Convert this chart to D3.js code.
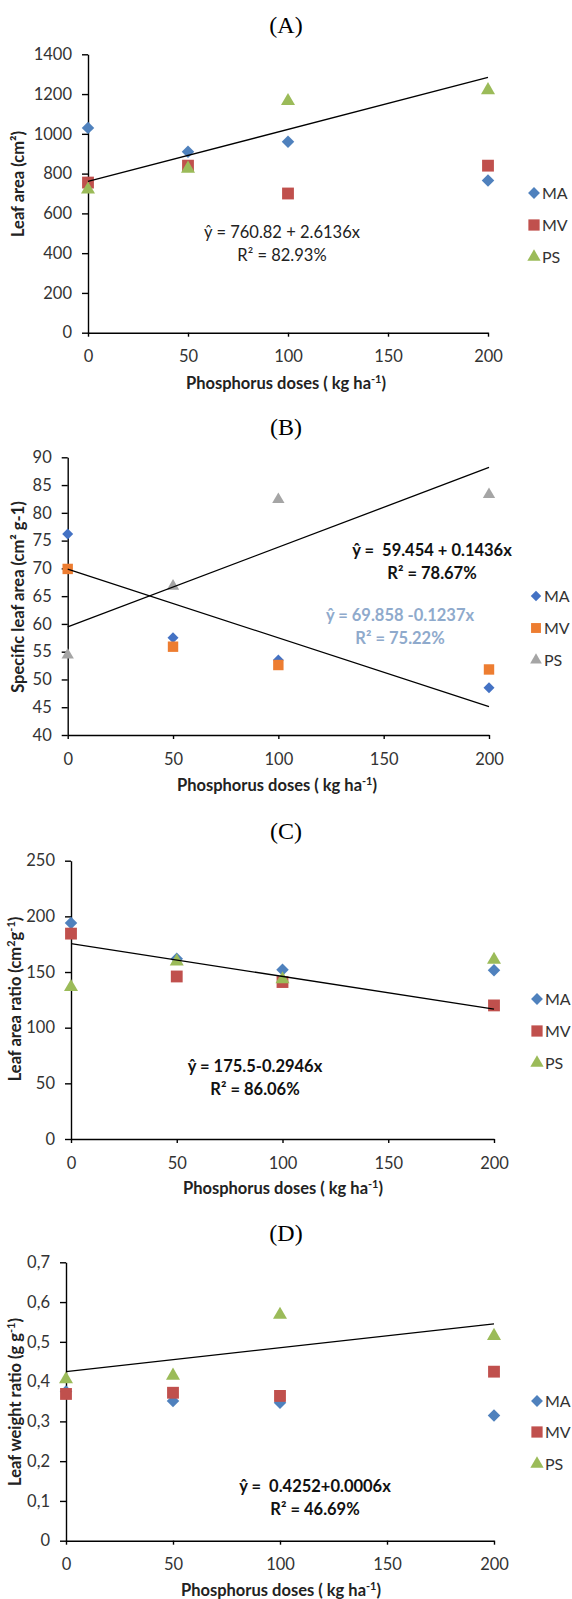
<!DOCTYPE html>
<html lang="en">
<head>
<meta charset="UTF-8">
<title>Leaf traits by phosphorus dose</title>
<script src="https://d3js.org/d3.v7.min.js"></script>
<style>
  body { margin: 0; background: #fff; }
  svg { display: block; }
  text { font-family: Lato, "Open Sans", sans-serif; }
  .axis text { font-family: Lato, "Open Sans", sans-serif; font-size: 16.5px; fill: #333; }
  .axis path, .axis line { stroke: #000; stroke-width: 1.4; }
  .panel-title { font-family: "Liberation Serif", serif; font-size: 24px; fill: #000; }
  .axis-title { font-weight: bold; font-size: 16.5px; fill: #222; }
  .legend text { font-size: 16px; fill: #333; }
  .eq { font-size: 16.5px; fill: #222; white-space: pre; }
  .trend { stroke: #000; stroke-width: 1.3; fill: none; }
</style>
</head>
<body>
<div id="chart"></div>
<script>
// doses on the x axis, same for every panel
const doses = [0, 50, 100, 200];
const xTicks = [0, 50, 100, 150, 200];
const seriesNames = ["MA", "MV", "PS"];

// (A) leaf area, cm2
const leafAreaMA = [1030, 910, 960, 765];
const leafAreaMV = [755, 840, 700, 840];
const leafAreaPS = [720, 825, 1165, 1220];
const leafAreaTicks = [0, 200, 400, 600, 800, 1000, 1200, 1400];

// (B) specific leaf area, cm2 g-1
const slaMA = [76.2, 57.5, 53.5, 48.5];
const slaMV = [69.9, 55.9, 52.6, 51.8];
const slaPS = [54.4, 66.8, 82.4, 83.3];
const slaTicks = [40, 45, 50, 55, 60, 65, 70, 75, 80, 85, 90];

// (C) leaf area ratio, cm2 g-1
const larMA = [194, 162, 152, 151.5];
const larMV = [184.5, 146, 141, 120];
const larPS = [136.5, 159.5, 143.5, 161];
const larTicks = [0, 50, 100, 150, 200, 250];

// (D) leaf weight ratio, g g-1
const lwrMA = [0.375, 0.351, 0.347, 0.315];
const lwrMV = [0.369, 0.372, 0.364, 0.425];
const lwrPS = [0.406, 0.415, 0.568, 0.515];
const lwrTicks = [0, 0.1, 0.2, 0.3, 0.4, 0.5, 0.6, 0.7];

// fitted lines: intercept, slope
const fitA = [760.82, 2.6136];
const fitB1 = [59.454, 0.1436];
const fitB2 = [69.858, -0.1237];
const fitC = [175.5, -0.2946];
const fitD = [0.4252, 0.0006];

const paletteOld = ["#4F81BD", "#C0504D", "#9BBB59"];
const paletteNew = ["#4472C4", "#ED7D31", "#A5A5A5"];

const svg = d3.select("#chart").append("svg")
    .attr("width", 572)
    .attr("height", 1599);

const panels = [
    {
        title: "(A)", titleY: 25,
        left: 88, right: 488, top: 54.3, bottom: 332.7,
        yDomain: [0, 1400], yTicks: leafAreaTicks, fmt: d3.format("d"),
        series: [leafAreaMA, leafAreaMV, leafAreaPS], colors: paletteOld, msize: 1,
        fits: [fitA],
        yTitle: [{ t: "Leaf area (cm²)" }], yTitleX: 18, yTitleY: 184,
        xTitleX: 286, xTitleY: 383,
        legendX: 534, legendY: [193, 225, 257],
        eqs: [{ lines: ["ŷ = 760.82 + 2.6136x", "R² = 82.93%"], x: 282, y: 232, bold: false, color: "#222" }]
    },
    {
        title: "(B)", titleY: 427,
        left: 67.7, right: 489, top: 457.3, bottom: 735,
        yDomain: [40, 90], yTicks: slaTicks, fmt: d3.format("d"),
        series: [slaMA, slaMV, slaPS], colors: paletteNew, msize: 0.88,
        fits: [fitB1, fitB2],
        yTitle: [{ t: "Specific leaf area (cm² g-1)" }], yTitleX: 18, yTitleY: 597,
        xTitleX: 277, xTitleY: 785,
        legendX: 536, legendY: [596, 628, 660],
        eqs: [
            { lines: ["ŷ =  59.454 + 0.1436x", "R² = 78.67%"], x: 432, y: 550, bold: true, color: "#111" },
            { lines: ["ŷ = 69.858 -0.1237x", "R² = 75.22%"], x: 400, y: 615, bold: true, color: "#8FAACC" }
        ]
    },
    {
        title: "(C)", titleY: 831,
        left: 71, right: 494, top: 860.7, bottom: 1139,
        yDomain: [0, 250], yTicks: larTicks, fmt: d3.format("d"),
        series: [larMA, larMV, larPS], colors: paletteOld, msize: 1,
        fits: [fitC],
        yTitle: [{ t: "Leaf area ratio (cm" }, { t: "2", sup: true }, { t: "g" }, { t: "-1", sup: true }, { t: ")" }],
        yTitleX: 15, yTitleY: 999,
        xTitleX: 283, xTitleY: 1188,
        legendX: 537, legendY: [999, 1031, 1063],
        eqs: [{ lines: ["ŷ = 175.5-0.2946x", "R² = 86.06%"], x: 255, y: 1066, bold: true, color: "#111" }]
    },
    {
        title: "(D)", titleY: 1233,
        left: 66, right: 494, top: 1262.3, bottom: 1540.7,
        yDomain: [0, 0.7], yTicks: lwrTicks, fmt: d => d === 0 ? "0" : d3.format(".1f")(d).replace(".", ","),
        series: [lwrMA, lwrMV, lwrPS], colors: paletteOld, msize: 1,
        fits: [fitD],
        yTitle: [{ t: "Leaf weight ratio (g g" }, { t: "-1", sup: true }, { t: ")" }],
        yTitleX: 15, yTitleY: 1402,
        xTitleX: 281, xTitleY: 1590,
        legendX: 537, legendY: [1401, 1432, 1464],
        eqs: [{ lines: ["ŷ =  0.4252+0.0006x", "R² = 46.69%"], x: 315, y: 1486, bold: true, color: "#111" }]
    }
];

// marker paths: diamond is a square turned 45 degrees like Excel draws it
function marker(sel, i, color, k) {
    let p;
    if (i === 0) {
        p = sel.append("path")
            .attr("d", d3.symbol(d3.symbolSquare, 78 * k * k)())
            .attr("transform", "rotate(45)");
    } else if (i === 1) {
        p = sel.append("path").attr("d", d3.symbol(d3.symbolSquare, 140 * k * k)());
    } else {
        p = sel.append("path").attr("d", d3.symbol(d3.symbolTriangle, 85 * k * k)());
    }
    p.attr("fill", color);
}

function drawPanel(p) {
    const g = svg.append("g");
    const x = d3.scaleLinear().domain([0, 200]).range([p.left, p.right]);
    const y = d3.scaleLinear().domain(p.yDomain).range([p.bottom, p.top]);

    g.append("text")
        .attr("class", "panel-title")
        .attr("x", 286).attr("y", p.titleY)
        .attr("dy", "0.35em")
        .attr("text-anchor", "middle")
        .text(p.title);

    g.append("g")
        .attr("class", "axis")
        .attr("transform", "translate(0," + p.bottom + ")")
        .call(d3.axisBottom(x).tickValues(xTicks).tickSize(4).tickSizeOuter(0).tickPadding(14));

    g.append("g")
        .attr("class", "axis")
        .attr("transform", "translate(" + p.left + ",0)")
        .call(d3.axisLeft(y).tickValues(p.yTicks).tickFormat(p.fmt).tickSize(6).tickSizeOuter(0).tickPadding(10));

    // points, series in order so later ones sit on top
    p.series.forEach((vals, i) => {
        vals.forEach((v, j) => {
            const m = g.append("g").attr("transform", "translate(" + x(doses[j]) + "," + y(v) + ")");
            marker(m, i, p.colors[i], p.msize);
        });
    });

    p.fits.forEach(f => {
        const line = d3.line().x(d => x(d)).y(d => y(f[0] + f[1] * d));
        g.append("path").attr("class", "trend").attr("d", line([0, 200]));
    });

    // axis titles
    const yt = g.append("text")
        .attr("class", "axis-title")
        .attr("text-anchor", "middle")
        .attr("transform", "translate(" + p.yTitleX + "," + p.yTitleY + ") rotate(-90)")
        .attr("dy", "0.35em");
    p.yTitle.forEach(part => {
        const ts = yt.append("tspan").text(part.t);
        if (part.sup) ts.attr("baseline-shift", "super").attr("font-size", "11px");
    });

    const xt = g.append("text")
        .attr("class", "axis-title")
        .attr("text-anchor", "middle")
        .attr("x", p.xTitleX).attr("y", p.xTitleY)
        .attr("dy", "0.35em");
    xt.append("tspan").text("Phosphorus doses ( kg ha");
    xt.append("tspan").attr("baseline-shift", "super").attr("font-size", "11px").text("-1");
    xt.append("tspan").text(")");

    // legend
    const lg = g.append("g").attr("class", "legend");
    seriesNames.forEach((name, i) => {
        const m = lg.append("g").attr("transform", "translate(" + p.legendX + "," + p.legendY[i] + ")");
        marker(m, i, p.colors[i], p.msize * 0.95);
        lg.append("text")
            .attr("x", p.legendX + 8).attr("y", p.legendY[i])
            .attr("dy", "0.35em")
            .text(name);
    });

    // equations
    p.eqs.forEach(eq => {
        eq.lines.forEach((ln, k) => {
            g.append("text")
                .attr("class", "eq")
                .attr("x", eq.x).attr("y", eq.y + k * 23)
                .attr("dy", "0.35em")
                .attr("text-anchor", "middle")
                .attr("font-weight", eq.bold ? "bold" : "normal")
                .style("fill", eq.color)
                .text(ln);
        });
    });
}

panels.forEach(drawPanel);
</script>
</body>
</html>
